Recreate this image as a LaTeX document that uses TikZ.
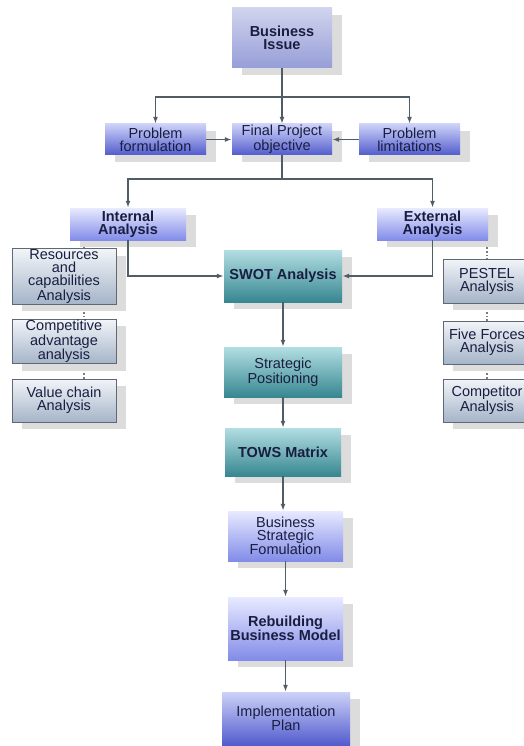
\documentclass[tikz,border=0pt]{standalone}
\usepackage{fontspec}
\setmainfont{Liberation Sans}
\usetikzlibrary{arrows.meta,shadows,backgrounds}

% colours of the boxes, the text and the lines
\definecolor{lavtop}{RGB}{208,212,238}
\definecolor{lavbot}{RGB}{150,158,215}
\definecolor{bluetop}{RGB}{205,210,248}
\definecolor{bluebot}{RGB}{82,92,205}
\definecolor{paletop}{RGB}{232,234,255}
\definecolor{palebot}{RGB}{130,140,232}
\definecolor{tealtop}{RGB}{178,222,226}
\definecolor{tealbot}{RGB}{55,135,145}
\definecolor{greytop}{RGB}{242,245,249}
\definecolor{greybot}{RGB}{165,180,200}
\definecolor{boxline}{RGB}{95,105,115}
\definecolor{txtcol}{RGB}{25,30,65}
\definecolor{linecol}{RGB}{80,92,102}
\definecolor{shadecol}{RGB}{220,220,220}

\tikzset{
  base/.style={inner sep=1pt, align=center, text=txtcol,
    font=\fontsize{14.5}{13}\selectfont,
    drop shadow={shadow xshift=10pt, shadow yshift=-7pt, fill=shadecol, opacity=1}},
  lavbox/.style={base, top color=lavtop, bottom color=lavbot},
  bluebox/.style={base, top color=bluetop, bottom color=bluebot},
  palebox/.style={base, top color=paletop, bottom color=palebot},
  tealbox/.style={base, top color=tealtop, bottom color=tealbot},
  sidebox/.style={base, draw=boxline, line width=1pt,
    top color=greytop, bottom color=greybot},
  link/.style={draw=linecol, line width=1.5pt, -{Latex[length=7pt,width=5pt]}},
  dotline/.style={draw=linecol!80, line width=1.6pt, dotted}
}

\begin{document}
\begin{tikzpicture}[x=1pt, y=-1pt]
  \useasboundingbox (0,0) rectangle (524,746);

  % top of the chart
  \node[lavbox, minimum width=100, minimum height=60] (issue) at (282,38)
    {\bfseries Business\\\bfseries Issue};
  \node[bluebox, minimum width=101, minimum height=31] (form) at (155.5,139.5)
    {Problem\\formulation};
  \node[bluebox, minimum width=100, minimum height=31] (goal) at (282,139.5)
    {Final Project\\objective};
  \node[bluebox, minimum width=101, minimum height=31] (limit) at (409.5,139.5)
    {Problem\\limitations};

  % the two analyses
  \node[palebox, minimum width=116, minimum height=32] (intern) at (128,224)
    {\bfseries Internal\\\bfseries Analysis};
  \node[palebox, minimum width=111, minimum height=32] (extern) at (432.5,224)
    {\bfseries External\\\bfseries Analysis};

  % side columns, left then right
  \node[sidebox, minimum width=104, minimum height=51] (res) at (64,276.5)
    {Resources\\and\\capabilities\\Analysis};
  \node[sidebox, minimum width=104, minimum height=43] (adv) at (64,341.5)
    {Competitive\\advantage\\analysis};
  \node[sidebox, minimum width=104, minimum height=43] (chain) at (64,400.5)
    {Value chain\\Analysis};
  \node[sidebox, minimum width=88, minimum height=44] (pestel) at (487,281)
    {PESTEL\\Analysis};
  \node[sidebox, minimum width=88, minimum height=43] (forces) at (487,342.5)
    {Five Forces\\Analysis};
  \node[sidebox, minimum width=88, minimum height=43] (rivals) at (487,400.5)
    {Competitor\\Analysis};

  % the main column
  \node[tealbox, minimum width=118, minimum height=52] (swot) at (283,276)
    {\bfseries SWOT Analysis};
  \node[tealbox, minimum width=118, minimum height=50] (pos) at (283,372)
    {Strategic\\Positioning};
  \node[tealbox, minimum width=116, minimum height=48] (tows) at (283,452)
    {\bfseries TOWS Matrix};
  \node[palebox, minimum width=115, minimum height=50] (strat) at (285.5,536)
    {Business\\Strategic\\Fomulation};
  \node[palebox, minimum width=115, minimum height=63] (model) at (285.5,628.5)
    {\bfseries Rebuilding\\\bfseries Business Model};
  \node[bluebox, minimum width=128, minimum height=53] (plan) at (286,718.5)
    {Implementation\\Plan};

  % dotted lines behind the side columns
  \coordinate (ldot) at ([xshift=20pt]intern.south -| res.center);
  \begin{scope}[on background layer]
    \draw[dotline] (ldot) -- (ldot |- chain.north);
    \draw[dotline] (extern.south -| pestel.center) -- (rivals.north);
  \end{scope}

  % arrows
  \draw[link] (issue.south) -- (goal.north);
  \draw[link] (issue.south) -- ++(0,29) -| (form.north);
  \draw[link] (issue.south) -- ++(0,29) -| (limit.north);
  \draw[link] (form.east) -- (goal.west);
  \draw[link] (limit.west) -- (goal.east);
  \draw[link] (goal.south) -- ++(0,24) -| (intern.north);
  \draw[link] (goal.south) -- ++(0,24) -| (extern.north);
  \draw[link] (intern.south) |- (swot.west);
  \draw[link] (extern.south) |- (swot.east);
  \draw[link] (swot.south) -- (swot.south |- pos.north);
  \draw[link] (pos.south) -- (pos.south |- tows.north);
  \draw[link] (tows.south) -- (tows.south |- strat.north);
  \draw[link] (strat.south) -- (strat.south |- model.north);
  \draw[link] (model.south) -- (model.south |- plan.north);
\end{tikzpicture}
\end{document}
